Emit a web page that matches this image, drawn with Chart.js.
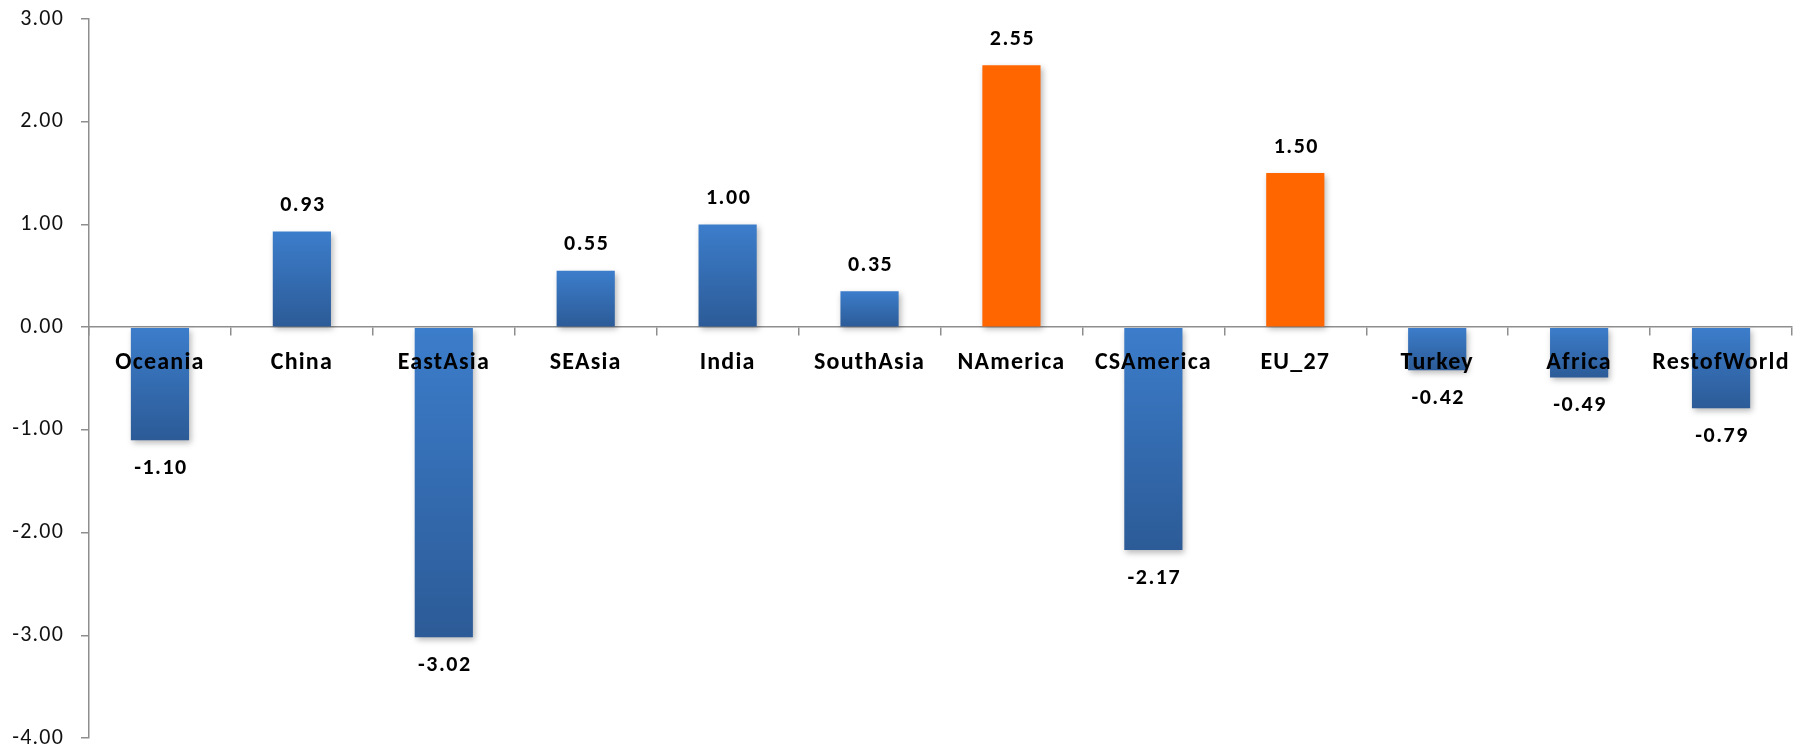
<!DOCTYPE html>
<html>
<head>
<meta charset="utf-8">
<script src="https://cdn.jsdelivr.net/npm/chart.js@4/dist/chart.umd.min.js"></script>
<style>
  html, body { margin: 0; padding: 0; background: #fff; }
  #wrap { width: 1808px; height: 748px; }
</style>
</head>
<body>
<div id="wrap"><canvas id="chart"></canvas></div>
<script>
const regions = ['Oceania', 'China', 'EastAsia', 'SEAsia', 'India', 'SouthAsia',
  'NAmerica', 'CSAmerica', 'EU_27', 'Turkey', 'Africa', 'RestofWorld'];
const values = [-1.10, 0.93, -3.02, 0.55, 1.00, 0.35, 2.55, -2.17, 1.50, -0.42, -0.49, -0.79];
// the two highlighted regions are drawn in orange
const highlighted = ['NAmerica', 'EU_27'];
const yTicks = [3, 2, 1, 0, -1, -2, -3, -4];

const FONT = 'Carlito, Lato, sans-serif';
const AXIS = '#8e8e8e';

function barFill(c) {
  if (highlighted.includes(regions[c.dataIndex])) return '#ff6600';
  const chart = c.chart;
  const y = chart.scales && chart.scales.y;
  if (!y || !chart.chartArea) return '#3a76c0';
  const v = values[c.dataIndex];
  const p0 = y.getPixelForValue(0);
  const p1 = y.getPixelForValue(v);
  const top = Math.min(p0, p1), bottom = Math.max(p0, p1);
  const g = chart.ctx.createLinearGradient(0, top, 0, bottom + 0.01);
  g.addColorStop(0, '#3c7dcb');
  g.addColorStop(1, '#2c5b97');
  return g;
}

// labels should not push the plot area around
function noPadding(scale) {
  scale.paddingTop = 0;
  scale.paddingBottom = 0;
  scale.paddingLeft = 0;
  scale.paddingRight = 0;
}

// soft drop shadow under the bars, then the value labels on top
const barExtras = {
  id: 'barExtras',
  beforeDraw(chart) {
    chart.ctx.letterSpacing = '1.2px';
  },
  beforeDatasetsDraw(chart) {
    const ctx = chart.ctx;
    ctx.save();
    ctx.shadowColor = 'rgba(0,0,0,0.28)';
    ctx.shadowBlur = 6;
    ctx.shadowOffsetX = 2;
    ctx.shadowOffsetY = 3;
  },
  afterDatasetsDraw(chart) {
    const ctx = chart.ctx;
    ctx.restore();
    ctx.save();
    ctx.font = 'bold 22px ' + FONT;
    ctx.letterSpacing = '1.5px';
    ctx.fillStyle = '#000';
    ctx.textAlign = 'center';
    ctx.textBaseline = 'middle';
    chart.getDatasetMeta(0).data.forEach((bar, i) => {
      const v = values[i];
      const y = v >= 0 ? bar.y - 26 : bar.y + 28;
      ctx.fillText(v.toFixed(2), bar.x + 1, y);
    });
    ctx.restore();
  }
};

new Chart(document.getElementById('chart'), {
  type: 'bar',
  data: {
    labels: regions,
    datasets: [{
      data: values,
      backgroundColor: barFill,
      borderWidth: 0,
      barPercentage: 0.82,
      categoryPercentage: 0.5
    }]
  },
  plugins: [barExtras],
  options: {
    responsive: true,
    maintainAspectRatio: false,
    animation: false,
    layout: { padding: { top: 19, right: 16, bottom: 10, left: 0 } },
    plugins: {
      legend: { display: false },
      tooltip: { enabled: false }
    },
    scales: {
      x: {
        position: { y: 0 },
        afterFit: noPadding,
        grid: {
          offset: true,
          drawOnChartArea: false,
          drawTicks: true,
          tickLength: 8,
          color: AXIS,
          lineWidth: 1.5
        },
        border: { color: AXIS, width: 1.5 },
        ticks: {
          z: 1,
          padding: 13,
          color: '#000',
          maxRotation: 0,
          autoSkip: false,
          font: { family: FONT, size: 24, weight: 'bold' }
        }
      },
      y: {
        min: -4,
        max: 3,
        afterFit(scale) {
          noPadding(scale);
          scale.width = 89;
        },
        afterBuildTicks(scale) { scale.ticks = yTicks.map(v => ({ value: v })); },
        grid: {
          drawOnChartArea: false,
          drawTicks: true,
          tickLength: 8,
          color: AXIS,
          lineWidth: 1.5
        },
        border: { color: AXIS, width: 1.5 },
        ticks: {
          padding: 17,
          color: '#111',
          font: { family: FONT, size: 22 },
          callback: v => Number(v).toFixed(2)
        }
      }
    }
  }
});
</script>
</body>
</html>
